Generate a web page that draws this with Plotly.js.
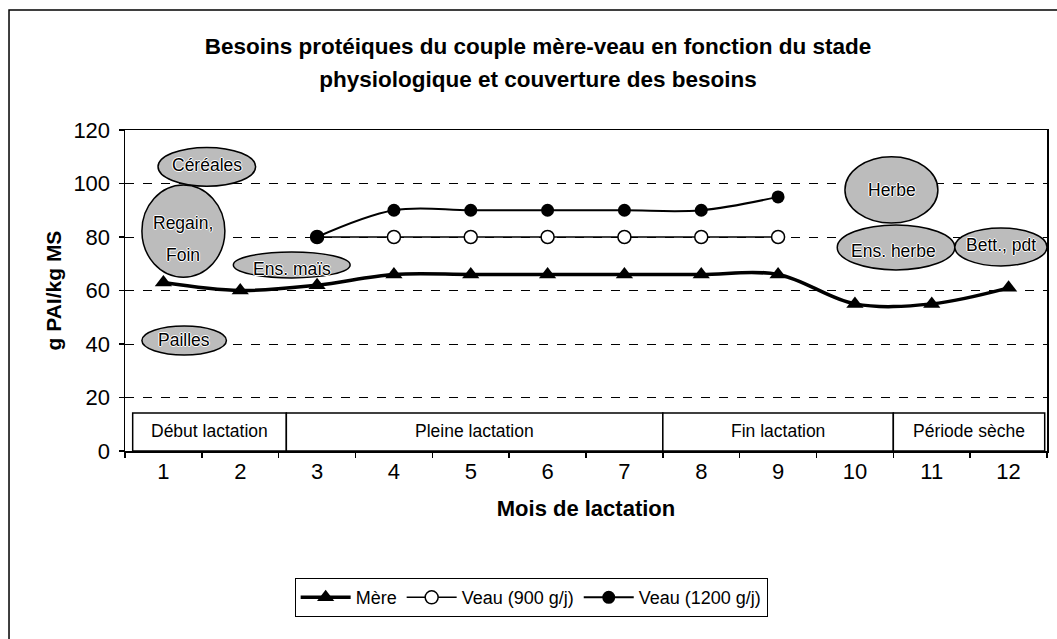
<!DOCTYPE html>
<html><head><meta charset="utf-8">
<script src="https://cdn.plot.ly/plotly-3.0.1.min.js"></script>
<style>html,body{margin:0;padding:0;background:#fff}#chart{width:1057px;height:639px}</style>
</head><body><div id="chart"></div>
<script>
// ---- data ----
const months = [1,2,3,4,5,6,7,8,9,10,11,12];
const mere = [63,60,62,66,66,66,66,66,66,55,55,61];
const veauMonths = [3,4,5,6,7,8,9];
const veau900 = [80,80,80,80,80,80,80];
const veau1200 = [80,90,90,90,90,90,95];
const seriesNames = ['Mère','Veau (900 g/j)','Veau (1200 g/j)'];
const stageLabels = ['Début lactation','Pleine lactation','Fin lactation','Période sèche'];
const stageBounds = [0.6, 2.6, 7.5, 10.5, 12.47];
const feedLabels = ['Céréales','Regain,|Foin','Ens. maïs','Pailles','Herbe','Ens. herbe','Bett., pdt'];
const yTicks = [0,20,40,60,80,100,120];

// ---- layout helpers (geometry, not data) ----
const FONT = 'Liberation Sans, Arial, sans-serif';
// ellipse boxes [x0,x1,y0,y1] and text anchor [x,y] in axis units
const feedGeom = [
  {box:[0.93,2.20,99,113.5], txt:[1.565,106.9]},
  {box:[0.72,1.80,65,99.4],  txt:[1.26,85.2], txt2:[1.26,73.3]},
  {box:[1.91,3.43,64.7,74.4], txt:[2.67,68.2]},
  {box:[0.72,1.82,35.9,46.7], txt:[1.27,41.4]},
  {box:[9.87,11.08,85.2,110], txt:[10.48,97.6]},
  {box:[9.77,11.30,67.7,84.5], txt:[10.5,74.6]},
  {box:[11.30,12.5,69.2,83.4], txt:[11.9,77]}
];
const halo = '1px 0 0 #fff, -1px 0 0 #fff, 0 1px 0 #fff, 0 -1px 0 #fff';

const traces = [
  {x: months, y: mere, name: seriesNames[0], type:'scatter', mode:'lines+markers',
   line:{color:'#000', width:3.5, shape:'spline', smoothing:1},
   marker:{symbol:'triangle-up', size:15, color:'#000'}},
  {x: veauMonths, y: veau900, name: seriesNames[1], type:'scatter', mode:'lines+markers',
   line:{color:'#000', width:1.5, shape:'spline', smoothing:1},
   marker:{symbol:'circle', size:13, color:'#fff', line:{color:'#000', width:1.5}}},
  {x: veauMonths, y: veau1200, name: seriesNames[2], type:'scatter', mode:'lines+markers',
   line:{color:'#000', width:2, shape:'spline', smoothing:1},
   marker:{symbol:'circle', size:13, color:'#000'}}
];

const shapes = [];
const annotations = [];
// stage boxes
for (let i = 0; i < stageLabels.length; i++) {
  shapes.push({type:'rect', xref:'x', yref:'y', x0:stageBounds[i], x1:stageBounds[i+1], y0:0, y1:14.2,
    line:{color:'#000', width:1.5}, fillcolor:'#fff', layer:'below'});
  annotations.push({xref:'x', yref:'y', x:(stageBounds[i]+stageBounds[i+1])/2, y:7.4,
    text: stageLabels[i], showarrow:false, font:{family:FONT, size:17.5, color:'#000'}});
}
// feed ellipses
feedLabels.forEach((lab, i) => {
  const g = feedGeom[i];
  shapes.push({type:'circle', xref:'x', yref:'y', x0:g.box[0], x1:g.box[1], y0:g.box[2], y1:g.box[3],
    line:{color:'#000', width:1.5}, fillcolor:'#bcbcbc', layer:'above'});
  const parts = lab.split('|');
  annotations.push({xref:'x', yref:'y', x:g.txt[0], y:g.txt[1], text:parts[0], showarrow:false,
    font:{family:FONT, size:17.5, color:'#000', shadow:halo}});
  if (parts[1]) annotations.push({xref:'x', yref:'y', x:g.txt2[0], y:g.txt2[1], text:parts[1], showarrow:false,
    font:{family:FONT, size:17.5, color:'#000', shadow:halo}});
});
// outer frame (left and top edges visible)
shapes.push({type:'rect', xref:'paper', yref:'paper', x0:-0.1258, x1:1.03, y0:-0.7, y1:1.374,
  line:{color:'#000', width:1.5}, fillcolor:'rgba(0,0,0,0)', layer:'below'});

const layout = {
  width:1057, height:639,
  margin:{l:125, r:10, t:130, b:188},
  paper_bgcolor:'#fff', plot_bgcolor:'#fff',
  font:{family:FONT, color:'#000'},
  title:{text:'<b><span style="font-size:22.5px">Besoins protéiques du couple mère-veau en fonction du stade</span><br><span style="font-size:22.5px">physiologique et couverture des besoins</span></b>',
    font:{family:FONT, size:25.5, color:'#000'}, xref:'container', yref:'container',
    x:538/1057, xanchor:'center', y:1-54/639, yanchor:'middle'},
  xaxis:{range:[0.5,12.5], tickmode:'array', tickvals:months, ticktext:months.map(String),
    ticks:'outside', ticklen:0, showgrid:false, zeroline:false, showline:true, linecolor:'#000', linewidth:1.5, mirror:true,
    tickfont:{family:FONT, size:22, color:'#000'},
    minor:{tickmode:'array', tickvals:[0.5,1.5,2.5,3.5,4.5,5.5,6.5,7.5,8.5,9.5,10.5,11.5,12.5], ticks:'outside', ticklen:5, tickcolor:'#000', tickwidth:1.5, showgrid:false},
    title:{text:'<b>Mois de lactation</b>', font:{family:FONT, size:22, color:'#000'}, standoff:17}},
  yaxis:{range:[0,120], tickmode:'array', tickvals:yTicks, ticks:'outside', ticklen:5, tickcolor:'#000', tickwidth:1.5,
    showgrid:true, gridcolor:'#000', gridwidth:1, griddash:'dash', zeroline:false,
    showline:true, linecolor:'#000', linewidth:1.5, mirror:true, ticklabelstandoff:4,
    tickfont:{family:FONT, size:22, color:'#000'},
    title:{text:'<b>g PAI/kg MS</b>', font:{family:FONT, size:21, color:'#000'}, standoff:6}},
  showlegend:true,
  legend:{orientation:'h', x:0.184, xanchor:'left', y:-0.396, yanchor:'top',
    bordercolor:'#000', borderwidth:1, bgcolor:'#fff', font:{family:FONT, size:18, color:'#000'},
    itemwidth:50, tracegroupgap:0},
  shapes: shapes,
  annotations: annotations
};

Plotly.newPlot('chart', traces, layout, {staticPlot:true, displayModeBar:false});
</script>
</body></html>
